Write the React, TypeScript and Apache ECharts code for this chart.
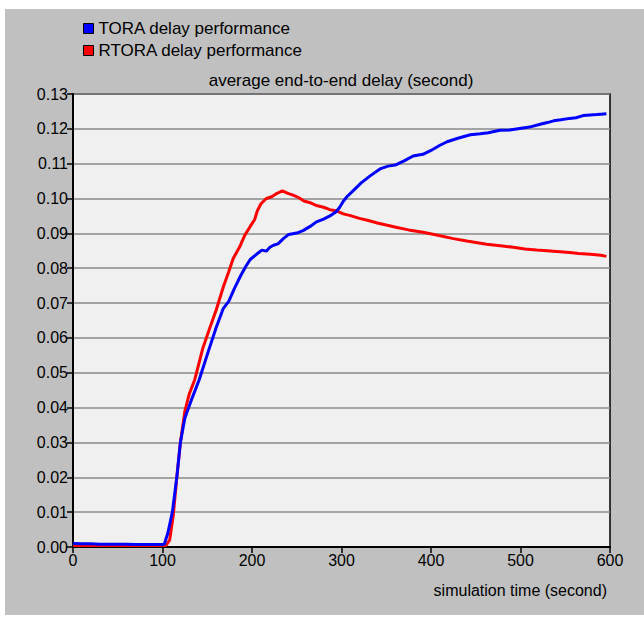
import React, { useEffect, useRef } from "react";
import * as echarts from "echarts";

const toraTimes = [0, 10, 20, 30, 40, 50, 60, 70, 80, 90, 100, 102, 106, 111, 116, 120, 125, 132, 141, 151, 160, 168, 174, 180, 187, 193, 198, 205, 211, 216, 220, 224, 229, 235, 241, 250, 257, 265, 272, 280, 287, 294, 298, 302, 306, 314, 322, 332, 343, 352, 360, 370, 380, 391, 400, 410, 418, 430, 444, 455, 464, 477, 488, 499, 510, 522, 530, 537, 545, 555, 562, 570, 578, 585, 590, 596];
const toraValues = [0.0010, 0.0009, 0.0009, 0.0008, 0.0008, 0.0008, 0.0008, 0.0007, 0.0007, 0.0007, 0.0007, 0.0008, 0.004, 0.010, 0.020, 0.030, 0.037, 0.042, 0.048, 0.056, 0.063, 0.0685, 0.0705, 0.074, 0.0777, 0.0805, 0.0825, 0.084, 0.0852, 0.0849, 0.086, 0.0866, 0.087, 0.0885, 0.0897, 0.0901, 0.0908, 0.092, 0.0933, 0.0941, 0.095, 0.0962, 0.0975, 0.0992, 0.1005, 0.1025, 0.1045, 0.1065, 0.1085, 0.1093, 0.1096, 0.1108, 0.1122, 0.1127, 0.1138, 0.1153, 0.1163, 0.1173, 0.1183, 0.1186, 0.1189, 0.1196, 0.1197, 0.1201, 0.1205, 0.1213, 0.1218, 0.1223, 0.1226, 0.123, 0.1232, 0.1238, 0.124, 0.1241, 0.1242, 0.1243];

const rtoraTimes = [0, 20, 40, 60, 80, 100, 104, 108, 112, 116, 120, 125, 130, 136, 140, 145, 149, 153, 160, 168, 174, 179, 186, 192, 198, 203, 206, 210, 216, 222, 228, 234, 240, 246, 252, 258, 265, 272, 280, 287, 295, 302, 310, 320, 330, 340, 350, 362, 375, 391, 405, 425, 440, 462, 480, 492, 505, 518, 537, 555, 565, 578, 590, 596];
const rtoraValues = [0.0004, 0.0004, 0.0004, 0.0004, 0.0004, 0.0004, 0.0005, 0.002, 0.009, 0.020, 0.030, 0.039, 0.044, 0.048, 0.052, 0.057, 0.060, 0.063, 0.068, 0.0747, 0.079, 0.0828, 0.086, 0.0895, 0.092, 0.094, 0.0965, 0.0985, 0.100, 0.1005, 0.1015, 0.1022, 0.1015, 0.101, 0.1003, 0.0993, 0.0988, 0.098, 0.0975, 0.0968, 0.0964, 0.0956, 0.0951, 0.0943, 0.0937, 0.093, 0.0924, 0.0917, 0.091, 0.0903, 0.0896, 0.0885, 0.0878, 0.0869, 0.0864, 0.086, 0.0855, 0.0852, 0.0849, 0.0845, 0.0842, 0.084, 0.0837, 0.0834];

const seriesNames = ["TORA delay performance", "RTORA delay performance"];
const chartTitle = "average end-to-end delay (second)";
const xAxisTitle = "simulation time (second)";

const FONT = "'Liberation Sans', Arial, sans-serif";

export default function App() {
  const ref = useRef<HTMLDivElement>(null);
  useEffect(() => {
    document.body.style.margin = "0";
    const chart = echarts.init(ref.current!, null, { renderer: "svg" });
    const zip = (ts: number[], vs: number[]) => ts.map((t, i) => [t, vs[i]]);
    chart.setOption({
      animation: false,
      backgroundColor: "#ffffff",
      textStyle: { fontFamily: FONT },
      graphic: [
        { type: "rect", z: -10, shape: { x: 5, y: 9, width: 639, height: 606 }, style: { fill: "#c0c0c0" } },
        { type: "text", x: 341, y: 80, style: { text: chartTitle, font: `17px ${FONT}`, fill: "#000", align: "center", verticalAlign: "middle" } },
        { type: "text", x: 607, y: 590, style: { text: xAxisTitle, font: `16px ${FONT}`, fill: "#000", align: "right", verticalAlign: "middle" } },
      ],
      legend: {
        orient: "vertical",
        left: 78,
        top: 15,
        itemWidth: 10,
        itemHeight: 10,
        itemGap: 5,
        icon: "rect",
        itemStyle: { borderColor: "#000", borderWidth: 1 },
        textStyle: { fontSize: 17, fontFamily: FONT, color: "#000" },
        data: seriesNames,
      },
      grid: {
        left: 73,
        right: 34,
        top: 94,
        bottom: 70,
        show: true,
        backgroundColor: "#f0f0f0",
        borderColor: "#000",
        borderWidth: 1.5,
      },
      xAxis: {
        type: "value",
        min: 0,
        max: 600,
        interval: 100,
        axisLine: { show: true, lineStyle: { color: "#000", width: 2 } },
        axisTick: { show: true, length: 6, lineStyle: { color: "#000", width: 1.5 } },
        axisLabel: { color: "#000", fontSize: 16, fontFamily: FONT, margin: 5 },
        splitLine: { show: false },
      },
      yAxis: {
        type: "value",
        min: 0,
        max: 0.13,
        interval: 0.01,
        axisLine: { show: true, lineStyle: { color: "#000", width: 2 } },
        axisTick: { show: true, length: 6, lineStyle: { color: "#000", width: 1.5 } },
        axisLabel: { color: "#000", fontSize: 16, fontFamily: FONT, margin: 5, formatter: (v: number) => v.toFixed(2) },
        splitLine: { show: true, lineStyle: { color: "#8a8a8a", width: 1.5 } },
      },
      series: [
        {
          name: seriesNames[0],
          type: "line",
          data: zip(toraTimes, toraValues),
          showSymbol: false,
          color: "#0000ff",
          lineStyle: { color: "#0000ff", width: 3 },
          z: 3,
        },
        {
          name: seriesNames[1],
          type: "line",
          data: zip(rtoraTimes, rtoraValues),
          showSymbol: false,
          color: "#ff0000",
          lineStyle: { color: "#ff0000", width: 3 },
          z: 2,
        },
      ],
    });
    return () => chart.dispose();
  }, []);
  return <div ref={ref} style={{ position: "absolute", left: 0, top: 0, width: 644, height: 617 }} />;
}
